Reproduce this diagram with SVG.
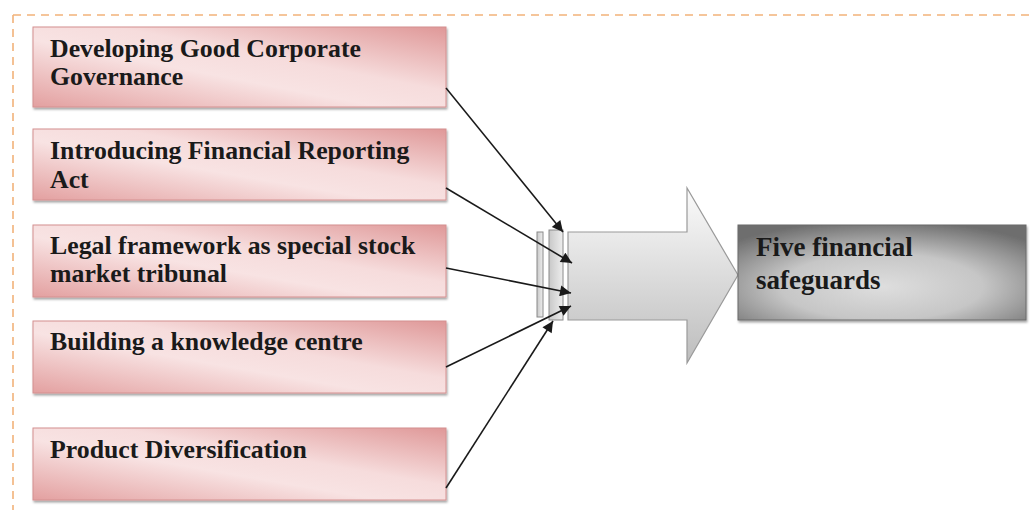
<svg xmlns="http://www.w3.org/2000/svg" width="1032" height="510" viewBox="0 0 1032 510">
<defs>
<linearGradient id="pink" x1="0" y1="1" x2="1" y2="0">
<stop offset="0" stop-color="#e3a0a0"/>
<stop offset="0.42" stop-color="#f8e3e3"/>
<stop offset="0.6" stop-color="#f6dcdc"/>
<stop offset="1" stop-color="#df9898"/>
</linearGradient>
<radialGradient id="gray" cx="0.5" cy="0.65" r="0.7">
<stop offset="0" stop-color="#dedede"/>
<stop offset="0.5" stop-color="#c6c6c6"/>
<stop offset="1" stop-color="#6e6e6e"/>
</radialGradient>
<linearGradient id="arrowFill" x1="0" y1="0" x2="0" y2="1">
<stop offset="0" stop-color="#fbfbfb"/>
<stop offset="1" stop-color="#bdbdbd"/>
</linearGradient>
<linearGradient id="barFill" x1="0" y1="0" x2="1" y2="0">
<stop offset="0" stop-color="#c8c8c8"/>
<stop offset="1" stop-color="#eeeeee"/>
</linearGradient>
<filter id="shadow" x="-5%" y="-5%" width="110%" height="120%">
<feDropShadow dx="1" dy="2" stdDeviation="1.2" flood-color="#000" flood-opacity="0.35"/>
</filter>
<marker id="ah" viewBox="0 0 10 10" refX="10" refY="5" markerWidth="12" markerHeight="11" markerUnits="userSpaceOnUse" orient="auto">
<path d="M0,0 L10,5 L0,10 z" fill="#1a1a1a"/>
</marker>
</defs>
<style>
.box{fill:url(#pink);stroke:#d49090;stroke-width:1;filter:url(#shadow)}
.lbl{font-family:"Liberation Serif","Times New Roman",serif;font-weight:bold;font-size:25.8px;fill:#1a1a1a}
.big{font-size:27px}
.conn{stroke:#1a1a1a;stroke-width:1.6;fill:none;marker-end:url(#ah)}
.frame{stroke:#f2b27a;stroke-width:1.6;stroke-dasharray:8,6;fill:none}
</style>
<rect width="1032" height="510" fill="#ffffff"/>
<g id="frame">
<line class="frame" x1="13" y1="15" x2="1032" y2="15"/>
<line class="frame" x1="13" y1="15" x2="13" y2="510"/>
</g>
<g id="n1">
<rect class="box" x="33" y="27" width="413" height="80"/>
<text class="lbl" x="50" y="57">Developing Good Corporate</text>
<text class="lbl" x="50" y="85">Governance</text>
</g>
<g id="n2">
<rect class="box" x="33" y="129" width="413" height="71"/>
<text class="lbl" x="50" y="159">Introducing Financial Reporting</text>
<text class="lbl" x="50" y="188">Act</text>
</g>
<g id="n3">
<rect class="box" x="33" y="225" width="413" height="72"/>
<text class="lbl" x="50" y="254">Legal framework as special stock</text>
<text class="lbl" x="50" y="282">market tribunal</text>
</g>
<g id="n4">
<rect class="box" x="33" y="321" width="413" height="72"/>
<text class="lbl" x="50" y="350">Building a knowledge centre</text>
</g>
<g id="n5">
<rect class="box" x="33" y="428" width="413" height="72"/>
<text class="lbl" x="50" y="458">Product Diversification</text>
</g>
<g id="bars">
<rect x="537" y="232" width="6" height="85" fill="url(#barFill)" stroke="#8a8a8a" stroke-width="1"/>
<rect x="549" y="230" width="14" height="90" fill="url(#barFill)" stroke="#8a8a8a" stroke-width="1"/>
</g>
<g id="bigArrow">
<path d="M568,232 L687,232 L687,188 L738,275 L687,363 L687,320 L568,320 Z" fill="url(#arrowFill)" stroke="#9a9a9a" stroke-width="1.2"/>
</g>
<g id="n6">
<rect x="738" y="225" width="288" height="95" fill="url(#gray)" stroke="#6a6a6a" stroke-width="1" filter="url(#shadow)"/>
<text class="lbl big" x="756" y="256">Five financial</text>
<text class="lbl big" x="756" y="289">safeguards</text>
</g>
<g id="connectors">
<line class="conn" x1="446" y1="88" x2="563" y2="232"/>
<line class="conn" x1="446" y1="188" x2="572" y2="263"/>
<line class="conn" x1="446" y1="268" x2="571" y2="293"/>
<line class="conn" x1="446" y1="367" x2="571" y2="306"/>
<line class="conn" x1="446" y1="488" x2="553" y2="321"/>
</g>
</svg>
